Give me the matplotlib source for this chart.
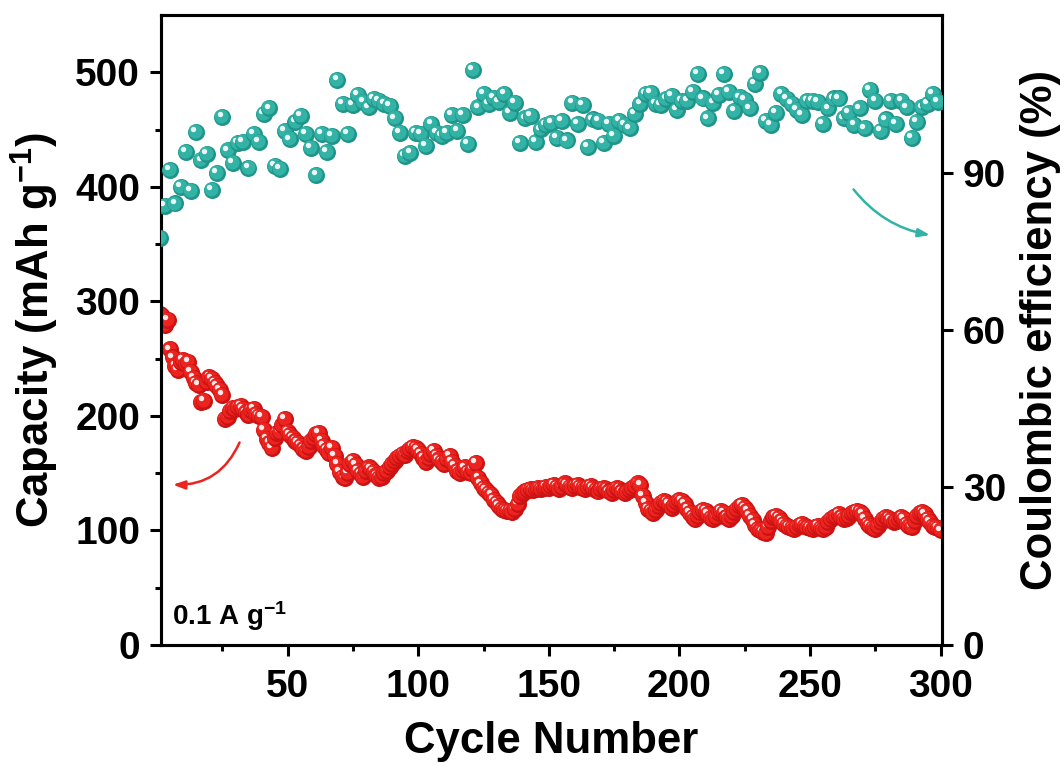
import matplotlib
matplotlib.use('Agg')
import matplotlib.pyplot as plt
from matplotlib.ticker import MultipleLocator, FixedLocator
from matplotlib.transforms import offset_copy

plt.rcParams['font.family'] = ['Liberation Sans', 'DejaVu Sans']
plt.rcParams['font.weight'] = 'bold'
plt.rcParams['axes.labelweight'] = 'bold'
plt.rcParams['mathtext.fontset'] = 'custom'
plt.rcParams['mathtext.rm'] = 'Liberation Sans:bold'
plt.rcParams['mathtext.bf'] = 'Liberation Sans:bold'
plt.rcParams['mathtext.default'] = 'rm'

# -------------------------------------------------
# data: discharge capacity (every cycle), CE (every other cycle)
# -------------------------------------------------
cycles = list(range(1, 301))
capacity = [
    289, 287, 279, 284, 258, 251, 244, 240, 247, 249,
    245, 247, 238, 233, 229, 227, 212, 213, 230, 234,
    232, 229, 226, 223, 218, 197, 199, 204, 207, 206,
    208, 209, 206, 203, 201, 205, 206, 202, 200, 199,
    188, 180, 176, 172, 181, 185, 186, 192, 197, 186,
    183, 181, 178, 176, 174, 171, 169, 173, 178, 181,
    184, 185, 178, 174, 170, 168, 172, 165, 158, 151,
    147, 146, 150, 158, 161, 157, 152, 149, 147, 152,
    155, 154, 151, 148, 146, 147, 150, 152, 155, 158,
    161, 163, 165, 167, 166, 169, 171, 173, 172, 170,
    167, 163, 160, 163, 167, 169, 165, 162, 160, 158,
    162, 165, 160, 156, 152, 150, 153, 155, 151, 150,
    154, 159, 146, 141, 137, 135, 133, 131, 127, 124,
    121, 119, 118, 117, 117, 116, 119, 123, 130, 133,
    134, 135, 136, 135, 136, 137, 136, 137, 138, 137,
    139, 140, 138, 136, 138, 141, 140, 138, 137, 139,
    140, 138, 137, 136, 138, 139, 137, 135, 134, 136,
    137, 136, 134, 133, 135, 137, 136, 134, 133, 134,
    135, 137, 139, 141, 140, 130, 124, 119, 117, 115,
    118, 121, 124, 126, 125, 123, 120, 122, 125, 127,
    126, 123, 119, 115, 112, 110, 113, 116, 118, 117,
    114, 111, 110, 112, 115, 117, 115, 112, 110, 113,
    116, 119, 121, 122, 120, 117, 113, 109, 105, 101,
    100, 99, 98, 103, 108, 112, 113, 111, 108, 106,
    104, 103, 102, 101, 103, 105, 106, 104, 103, 102,
    101, 103, 104, 102, 101, 103, 107, 110, 112, 113,
    114, 112, 110, 111, 113, 115, 116, 117, 116, 114,
    110, 106, 104, 102, 101, 104, 107, 110, 112, 111,
    109, 107, 108, 110, 112, 110, 106, 104, 103, 108,
    113, 115, 116, 114, 110, 107, 104, 103, 102, 100,
]

ce_cycles = list(range(1, 300, 2))
efficiency = [
    77.6, 83.7, 90.4, 84.1, 87.3, 94.0, 86.4, 97.8, 92.3, 93.6,
    86.6, 90.0, 100.5, 94.2, 91.9, 95.7, 95.9, 90.8, 97.4, 95.9,
    101.2, 102.2, 91.3, 90.6, 98.0, 96.3, 99.7, 100.7, 97.4, 94.6,
    89.6, 97.4, 94.0, 97.0, 107.7, 103.1, 97.4, 102.8, 104.7, 103.5,
    102.4, 104.0, 103.6, 103.0, 102.6, 100.3, 97.6, 93.1, 93.8, 97.6,
    97.4, 95.0, 99.3, 97.5, 97.0, 97.6, 100.9, 98.0, 100.9, 95.5,
    109.6, 102.4, 105.0, 103.0, 104.2, 103.4, 105.0, 101.4, 103.3, 95.7,
    100.3, 100.7, 95.9, 98.2, 99.0, 99.5, 96.5, 99.9, 96.1, 103.3,
    99.3, 102.8, 94.8, 100.1, 99.9, 95.7, 99.3, 97.0, 99.9, 99.0,
    98.4, 101.2, 103.1, 105.0, 105.2, 103.1, 102.8, 104.0, 104.5, 102.0,
    103.7, 103.7, 105.4, 108.7, 104.1, 100.3, 103.3, 104.7, 108.7, 105.4,
    101.8, 104.3, 103.8, 102.2, 106.9, 109.0, 99.9, 99.0, 101.4, 105.0,
    104.0, 103.1, 102.0, 100.9, 103.7, 103.7, 103.5, 99.3, 102.2, 104.1,
    104.1, 100.3, 101.4, 99.0, 102.2, 98.4, 105.8, 103.7, 98.0, 100.1,
    103.7, 99.3, 103.7, 102.4, 96.5, 99.7, 102.4, 103.0, 105.0, 103.4,
]

RED = '#ec2420'
RED_DARK = '#cc1212'
TEAL = '#33b3a6'
TEAL_DARK = '#1f958a'

fig, ax = plt.subplots(figsize=(10.64, 7.63), dpi=100)
fig.subplots_adjust(left=0.1513, right=0.8853, bottom=0.1547, top=0.9803)
ax2 = ax.twinx()


# 每个点画成带高光的小球
def draw_balls(axis, xs, ys, base, shade, size=150):
    tr1 = offset_copy(axis.transData, fig=fig, x=-0.7, y=0.7, units='points')
    tr2 = offset_copy(axis.transData, fig=fig, x=-2.0, y=2.1, units='points')
    for x, y in zip(xs, ys):
        axis.scatter(x, y, s=size, color=shade, linewidths=0, zorder=3)
        axis.scatter(x, y, s=size * 0.68, color=base, linewidths=0,
                     transform=tr1, zorder=3)
        axis.scatter(x, y, s=size * 0.1, color='white', alpha=0.9,
                     linewidths=0, transform=tr2, zorder=3)


draw_balls(ax, cycles, capacity, RED, RED_DARK)
draw_balls(ax2, ce_cycles, efficiency, TEAL, TEAL_DARK)

# axes ranges / ticks
ax.set_xlim(1.5, 300.5)
ax.set_ylim(0, 550)
ax2.set_ylim(0, 120)

ax.xaxis.set_major_locator(MultipleLocator(50))
ax.xaxis.set_minor_locator(MultipleLocator(25))
ax.yaxis.set_major_locator(MultipleLocator(100))
ax.yaxis.set_minor_locator(FixedLocator([50, 150, 250, 350, 450]))
ax2.yaxis.set_major_locator(FixedLocator([0, 30, 60, 90]))
ax2.yaxis.set_minor_locator(FixedLocator([]))

for a in (ax, ax2):
    for sp in a.spines.values():
        sp.set_linewidth(2.2)
    a.tick_params(which='major', direction='out', length=8, width=2.2,
                  labelsize=28, pad=7)
    a.tick_params(which='minor', direction='out', length=4.5, width=2.2)
ax.tick_params(top=False, right=False)
ax.tick_params(which='minor', top=False, right=False)
ax.tick_params(axis='x', which='major', pad=9)

ax.set_xlabel('Cycle Number', fontsize=31.5, fontweight='bold', labelpad=12)
ax.set_ylabel(r'Capacity (mAh g$^{-1}$)', fontsize=31.5, fontweight='bold',
              labelpad=10)
ax2.set_ylabel('Coulombic efficiency (%)', fontsize=31.5, fontweight='bold',
               labelpad=10)

ax.text(0.014, 0.032, r'0.1 A g$^{-1}$', transform=ax.transAxes,
        fontsize=20, fontweight='bold', ha='left', va='baseline')

# 指向对应坐标轴的弧形箭头
ax.annotate('', xy=(5, 140), xytext=(32, 179),
            arrowprops=dict(arrowstyle='-|>,head_length=0.7,head_width=0.25',
                            color=RED, lw=1.8,
                            connectionstyle='arc3,rad=-0.35'))
ax2.annotate('', xy=(297, 78), xytext=(266, 87.2),
             arrowprops=dict(arrowstyle='-|>,head_length=0.7,head_width=0.25',
                             color=TEAL, lw=1.8,
                             connectionstyle='arc3,rad=0.2'))

fig.savefig('out.png', dpi=100)
